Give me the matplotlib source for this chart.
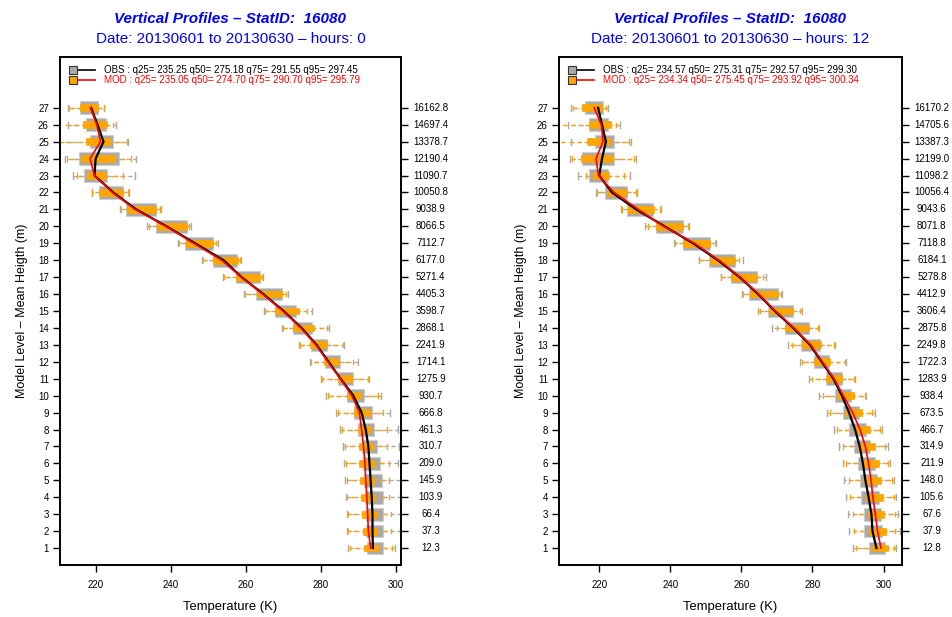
import numpy as np
import matplotlib
matplotlib.use("Agg")
import matplotlib.pyplot as plt

plt.rcParams['font.family'] = ['Liberation Sans', 'DejaVu Sans']

levels = np.arange(1, 28)

# ---- hours 00 ----
h00_obs_lo = [287.2, 287.0, 287.0, 286.6, 286.4, 286.0, 285.8, 285.1, 284.0, 281.2, 279.9, 277.1, 274.0, 269.5,
              264.8, 259.4, 253.8, 248.3, 241.8, 233.5, 226.4, 218.8, 213.8, 211.6, 209.0, 212.4, 212.6]
h00_obs_q25 = [292.3, 292.0, 291.9, 291.7, 291.5, 291.3, 290.8, 289.8, 288.9, 287.0, 284.4, 281.1, 277.2, 272.6,
               267.7, 262.7, 257.2, 251.1, 243.7, 236.0, 228.0, 220.8, 216.7, 215.5, 218.4, 217.3, 215.7]
h00_obs_med = [293.8, 293.7, 293.7, 293.5, 293.2, 292.9, 292.6, 291.9, 290.8, 288.6, 285.2, 282.0, 278.8, 274.8,
               270.0, 264.6, 258.8, 254.0, 246.4, 238.8, 230.7, 224.6, 219.6, 219.9, 222.0, 220.4, 218.7]
h00_obs_q75 = [296.6, 296.4, 296.6, 296.4, 296.2, 295.7, 295.0, 294.2, 293.7, 291.5, 288.6, 285.1, 281.5, 277.7,
               273.3, 269.5, 263.7, 257.7, 251.3, 244.2, 235.9, 227.3, 222.8, 226.0, 224.4, 222.7, 220.6]
h00_obs_hi = [299.7, 301.1, 301.2, 301.1, 301.2, 300.6, 300.8, 300.4, 298.4, 296.0, 292.9, 289.8, 286.0, 282.0,
              277.7, 271.1, 264.6, 258.7, 252.4, 245.2, 237.3, 228.9, 230.3, 230.6, 228.6, 225.3, 222.2]

h00_mod_lo = [287.7, 287.3, 287.3, 287.0, 286.8, 286.6, 286.4, 285.7, 284.4, 281.8, 280.2, 277.2, 274.4, 269.8,
              265.1, 259.7, 254.0, 248.6, 242.2, 234.0, 226.7, 219.0, 215.0, 212.2, 208.0, 209.5, 212.8]
h00_mod_q25 = [291.5, 291.1, 290.8, 290.7, 290.4, 290.1, 290.0, 289.8, 288.8, 287.0, 284.4, 280.9, 277.1, 272.6,
               267.7, 262.8, 257.2, 251.1, 244.0, 236.2, 228.2, 220.9, 217.7, 216.0, 217.3, 216.4, 215.7]
h00_mod_med = [293.2, 292.6, 292.4, 292.2, 291.9, 291.7, 291.3, 290.8, 290.2, 288.2, 285.1, 281.8, 278.6, 274.6,
               269.8, 264.4, 258.7, 253.5, 246.0, 238.7, 230.4, 224.4, 219.6, 218.4, 221.2, 220.2, 218.5]
h00_mod_q75 = [295.3, 294.8, 294.8, 294.4, 294.2, 294.0, 293.8, 293.3, 293.1, 290.7, 288.2, 284.9, 281.5, 278.0,
               274.0, 269.5, 263.7, 257.8, 251.3, 244.2, 235.9, 227.3, 222.7, 225.1, 223.6, 222.8, 220.4]
h00_mod_hi = [298.8, 298.7, 298.6, 298.2, 298.1, 298.1, 297.5, 297.5, 296.6, 295.3, 292.6, 288.6, 285.8, 281.5,
              276.2, 270.7, 264.2, 258.4, 252.0, 244.9, 237.1, 228.6, 227.3, 229.3, 228.2, 224.4, 222.0]

h00_height = ['12.3', '37.3', '66.4', '103.9', '145.9', '209.0', '310.7', '461.3', '666.8', '930.7', '1275.9',
              '1714.1', '2241.9', '2868.1', '3598.7', '4405.3', '5271.4', '6177.0', '7112.7', '8066.5', '9038.9',
              '10050.8', '11090.7', '12190.4', '13378.7', '14697.4', '16162.8']

# ---- hours 12 ----
h12_obs_lo = [291.4, 290.2, 289.9, 289.4, 289.0, 288.5, 287.5, 286.2, 284.2, 281.9, 279.1, 276.5, 273.0, 268.7,
              264.7, 260.2, 254.2, 248.0, 241.0, 232.9, 226.1, 219.2, 214.1, 211.7, 212.0, 211.3, 212.2]
h12_obs_q25 = [295.8, 294.6, 294.4, 293.7, 293.4, 292.8, 291.8, 290.4, 288.5, 286.4, 283.8, 280.5, 276.7, 272.4,
               267.6, 262.2, 257.2, 250.8, 243.7, 236.0, 227.8, 221.7, 217.2, 215.1, 218.8, 217.2, 216.0]
h12_obs_med = [298.0, 296.9, 296.6, 295.8, 294.9, 294.2, 293.3, 292.0, 290.3, 288.3, 285.9, 282.6, 279.3, 274.6,
               269.4, 264.7, 259.5, 253.4, 246.4, 238.4, 230.4, 223.6, 220.0, 220.8, 221.9, 220.8, 219.7]
h12_obs_q75 = [300.3, 299.6, 299.3, 298.8, 298.3, 297.7, 296.3, 295.1, 293.0, 290.8, 288.3, 284.8, 282.0, 279.1,
               274.6, 270.2, 264.3, 258.1, 251.1, 243.5, 235.1, 227.7, 222.5, 224.3, 224.3, 222.5, 221.1]
h12_obs_hi = [303.6, 304.6, 304.0, 303.6, 302.9, 301.9, 301.3, 299.6, 297.5, 295.0, 292.0, 289.5, 286.4, 281.9,
              277.0, 271.5, 266.9, 260.5, 252.8, 245.4, 237.5, 230.6, 228.8, 230.5, 229.0, 225.8, 222.5]

h12_mod_lo = [292.3, 291.8, 291.4, 290.6, 290.2, 289.5, 288.5, 286.9, 285.0, 282.9, 279.8, 277.2, 274.3, 269.9,
              265.2, 260.5, 254.4, 248.2, 241.4, 233.7, 226.4, 219.5, 216.2, 212.3, 207.5, 208.0, 212.5]
h12_mod_q25 = [296.7, 296.0, 295.5, 295.1, 294.6, 293.9, 292.8, 291.6, 289.2, 286.9, 283.8, 280.5, 277.0, 272.4,
               267.7, 262.4, 257.2, 251.1, 243.7, 236.0, 228.0, 222.1, 218.3, 215.0, 216.7, 217.2, 215.1]
h12_mod_med = [299.3, 298.3, 297.7, 297.0, 296.5, 295.8, 294.9, 293.4, 291.3, 288.7, 286.1, 282.8, 279.5, 274.8,
               269.6, 264.9, 259.7, 253.7, 246.8, 238.1, 231.0, 224.2, 219.8, 219.1, 221.1, 220.6, 218.6]
h12_mod_q75 = [301.4, 300.7, 300.2, 299.8, 299.3, 298.8, 297.5, 296.1, 293.9, 291.6, 288.3, 285.0, 282.3, 279.1,
               274.4, 270.2, 264.4, 258.1, 251.1, 243.5, 235.5, 227.7, 222.8, 224.0, 223.1, 223.4, 220.9]
h12_mod_hi = [302.9, 303.3, 303.3, 302.9, 302.4, 301.4, 300.5, 299.1, 296.7, 294.9, 291.6, 289.2, 286.2, 281.5,
              276.5, 271.1, 266.1, 259.4, 252.5, 245.0, 237.1, 230.4, 226.9, 229.7, 228.5, 224.7, 221.9]

h12_height = ['12.8', '37.9', '67.6', '105.6', '148.0', '211.9', '314.9', '466.7', '673.5', '938.4', '1283.9',
              '1722.3', '2249.8', '2875.8', '3606.4', '4412.9', '5278.8', '6184.1', '7118.8', '8071.8', '9043.6',
              '10056.4', '11098.2', '12199.0', '13387.3', '14705.6', '16170.2']

obs_legend = ['OBS : q25= 235.25 q50= 275.18 q75= 291.55 q95= 297.45',
              'OBS : q25= 234.57 q50= 275.31 q75= 292.57 q95= 299.30']
mod_legend = ['MOD : q25= 235.05 q50= 274.70 q75= 290.70 q95= 295.79',
              'MOD : q25= 234.34 q50= 275.45 q75= 293.92 q95= 300.34']
hours = [0, 12]

GREY = '#a9a9a9'
ORANGE = '#ffa500'
BLUE = '#0000ff'


def make_stats(lo, q25, med, q75, hi):
    return [dict(whislo=a, q1=b, med=c, q3=d, whishi=e, fliers=[])
            for a, b, c, d, e in zip(lo, q25, med, q75, hi)]


def draw_panel(ax, obs, mod, heights, xlim, hour, obs_txt, mod_txt):
    ax.bxp(make_stats(*obs), positions=levels, widths=0.75, orientation='horizontal',
           patch_artist=True, showfliers=False, capwidths=0.36,
           boxprops=dict(facecolor=GREY, edgecolor='#cfcfcf', linewidth=0.8),
           whiskerprops=dict(color=GREY, linestyle=(0, (3, 2)), linewidth=1.0),
           capprops=dict(color=GREY, linewidth=1.0),
           medianprops=dict(linewidth=0))
    ax.bxp(make_stats(*mod), positions=levels, widths=0.4, orientation='horizontal',
           patch_artist=True, showfliers=False, capwidths=0.26,
           boxprops=dict(facecolor=ORANGE, edgecolor=ORANGE, linewidth=0.5),
           whiskerprops=dict(color=ORANGE, linestyle=(2, (3, 3)), linewidth=1.0),
           capprops=dict(color=ORANGE, linewidth=1.0),
           medianprops=dict(linewidth=0))
    ax.plot(obs[2], levels, color='black', lw=1.6, zorder=5)
    ax.plot(mod[2], levels, color='red', lw=1.2, zorder=6)

    ax.set_xlim(*xlim)
    ax.set_ylim(0, 30)
    ax.set_xticks([220, 240, 260, 280, 300])
    ax.set_yticks(levels)
    ax.set_yticklabels([str(l) for l in levels])
    ax.tick_params(axis='both', direction='out', length=5, width=1, labelsize=7, pad=3)
    ax.tick_params(axis='y', right=True)
    ax.tick_params(axis='x', pad=6)
    for sp in ax.spines.values():
        sp.set_linewidth(1.4)

    # mean heights on the right side
    for l, h in zip(levels, heights):
        ax.text(1.087, l, h, transform=ax.get_yaxis_transform(), ha='center', va='center', fontsize=7)

    ax.set_xlabel('Temperature (K)', fontsize=9.4, labelpad=8)
    ax.set_ylabel('Model Level \u2013 Mean Heigth (m)', fontsize=9, labelpad=7)

    ax.text(0.5, 1.075, 'Vertical Profiles \u2013 StatID:  16080', transform=ax.transAxes,
            ha='center', va='center', fontsize=11, fontweight='bold', fontstyle='italic', color=BLUE)
    ax.text(0.5, 1.036, 'Date: 20130601 to 20130630 \u2013 hours: %d' % hour, transform=ax.transAxes,
            ha='center', va='center', fontsize=11, color=BLUE)

    # legend
    for y, txt, fc, lc, tc in [(0.975, obs_txt, GREY, 'black', 'black'),
                               (0.954, mod_txt, ORANGE, 'red', 'red')]:
        ax.plot([0.05, 0.103], [y, y], color=lc, lw=1.2, transform=ax.transAxes, clip_on=False)
        ax.plot([0.038], [y], marker='s', ms=5.5, mfc=fc, mec='#333333', mew=0.8,
                transform=ax.transAxes, clip_on=False)
        ax.text(0.128, y, txt, transform=ax.transAxes, ha='left', va='center', fontsize=7, color=tc)


fig = plt.figure(figsize=(9.52, 6.17), dpi=100)
ax1 = fig.add_axes([60 / 952, 1 - 565 / 617, 341 / 952, 508 / 617])
ax2 = fig.add_axes([559 / 952, 1 - 565 / 617, 343 / 952, 508 / 617])

draw_panel(ax1,
           (h00_obs_lo, h00_obs_q25, h00_obs_med, h00_obs_q75, h00_obs_hi),
           (h00_mod_lo, h00_mod_q25, h00_mod_med, h00_mod_q75, h00_mod_hi),
           h00_height, (210.4, 301.3), hours[0], obs_legend[0], mod_legend[0])
draw_panel(ax2,
           (h12_obs_lo, h12_obs_q25, h12_obs_med, h12_obs_q75, h12_obs_hi),
           (h12_mod_lo, h12_mod_q25, h12_mod_med, h12_mod_q75, h12_mod_hi),
           h12_height, (208.7, 305.2), hours[1], obs_legend[1], mod_legend[1])

fig.savefig('out.png', dpi=100)
